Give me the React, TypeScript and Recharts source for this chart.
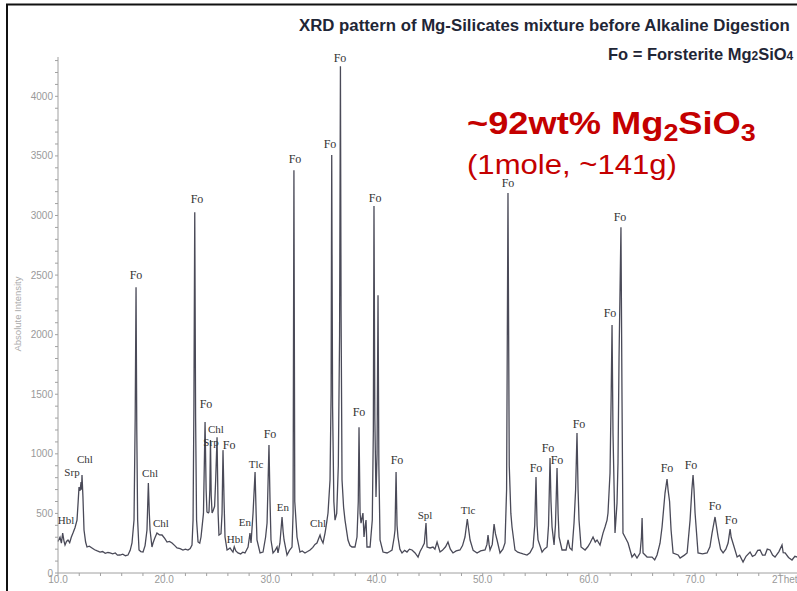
import { ComposedChart, Line, Scatter, XAxis, YAxis } from "recharts";

// 2theta (deg) and counts
const twoTheta = [
  10.0, 10.19, 10.32, 10.44, 10.56, 10.66, 10.8, 10.94, 11.1, 11.25, 11.41, 11.6, 11.79, 11.9, 11.98, 12.08, 12.17, 12.22, 12.26, 12.35,
  12.45, 12.6, 12.73, 12.95, 13.2, 13.45, 13.7, 13.96, 14.2, 14.45, 14.7, 14.9, 15.15, 15.4, 15.6, 15.84, 16.1, 16.35, 16.59, 16.8,
  16.97, 17.16, 17.27, 17.35, 17.42, 17.5, 17.63, 17.8, 18.01, 18.2, 18.38, 18.51, 18.6, 18.67, 18.85, 18.95, 19.1, 19.32, 19.55, 19.8,
  20.05, 20.27, 20.5, 20.74, 21.0, 21.21, 21.5, 21.77, 22.0, 22.24, 22.45, 22.62, 22.72, 22.8, 22.88, 22.96, 23.05, 23.19, 23.35, 23.47,
  23.7, 23.85, 23.95, 24.03, 24.15, 24.22, 24.3, 24.36, 24.43, 24.51, 24.6, 24.75, 24.85, 24.98, 25.08, 25.16, 25.35, 25.45, 25.54, 25.64,
  25.73, 25.92, 26.05, 26.2, 26.35, 26.48, 26.6, 26.75, 26.95, 27.2, 27.4, 27.61, 27.9, 28.08, 28.18, 28.37, 28.56, 28.66, 28.74, 29.03,
  29.31, 29.55, 29.69, 29.87, 29.97, 30.06, 30.25, 30.45, 30.63, 30.72, 30.9, 31.1, 31.2, 31.29, 31.57, 31.8, 32.04, 32.14, 32.22, 32.3,
  32.51, 32.79, 33.0, 33.26, 33.5, 33.74, 34.0, 34.2, 34.39, 34.55, 34.68, 34.8, 34.96, 35.15, 35.3, 35.43, 35.62, 35.72, 35.78, 35.86,
  35.98, 36.09, 36.25, 36.4, 36.52, 36.6, 36.66, 36.75, 36.9, 37.03, 37.31, 37.5, 37.69, 37.97, 38.16, 38.28, 38.35, 38.45, 38.54, 38.63,
  38.72, 38.82, 38.92, 39.01, 39.1, 39.39, 39.6, 39.7, 39.76, 39.84, 39.95, 40.05, 40.14, 40.22, 40.33, 40.61, 40.99, 41.25, 41.46, 41.66,
  41.74, 41.84, 41.93, 42.02, 42.2, 42.4, 42.65, 42.87, 43.1, 43.34, 43.63, 43.91, 44.1, 44.28, 44.5, 44.66, 44.76, 45.04, 45.32, 45.5,
  45.7, 45.98, 46.2, 46.5, 46.73, 46.95, 47.2, 47.5, 47.86, 48.1, 48.33, 48.55, 48.7, 48.81, 49.1, 49.47, 49.8, 50.22, 50.4, 50.5,
  50.6, 50.69, 50.9, 51.07, 51.2, 51.35, 51.63, 51.9, 52.1, 52.25, 52.38, 52.5, 52.65, 52.76, 53.04, 53.3, 53.51, 53.8, 54.17, 54.45,
  54.74, 54.9, 55.02, 55.12, 55.21, 55.59, 55.8, 56.06, 56.2, 56.34, 56.43, 56.53, 56.72, 56.85, 57.0, 57.1, 57.19, 57.47, 57.85, 58.04,
  58.2, 58.41, 58.6, 58.75, 58.88, 58.98, 59.07, 59.26, 59.64, 59.9, 60.11, 60.39, 60.6, 60.77, 61.05, 61.33, 61.52, 61.71, 61.8, 61.99,
  62.1, 62.18, 62.27, 62.46, 62.65, 62.74, 62.84, 63.02, 63.12, 63.21, 63.4, 63.69, 64.06, 64.3, 64.53, 64.82, 64.95, 65.01, 65.1, 65.48,
  65.95, 66.2, 66.42, 66.7, 66.89, 67.17, 67.36, 67.46, 67.6, 67.74, 67.93, 68.4, 68.59, 69.0, 69.25, 69.53, 69.7, 69.81, 69.9, 70.0,
  70.28, 70.7, 71.13, 71.4, 71.6, 71.88, 72.0, 72.17, 72.4, 72.64, 72.9, 73.11, 73.3, 73.4, 73.48, 73.96, 74.2, 74.52, 74.8, 75.18,
  75.4, 75.65, 75.9, 76.12, 76.35, 76.59, 76.8, 77.06, 77.3, 77.53, 77.9, 78.19, 78.3, 78.48, 78.8, 79.13, 79.4, 79.6,
];

const intensity = [
  265, 300, 250, 335, 270, 235, 265, 277, 255, 300, 335, 380, 444, 600, 721, 690, 763, 700, 822, 637,
  361, 260, 218, 225, 210, 195, 185, 176, 180, 165, 172, 168, 160, 168, 150, 151, 158, 145, 151, 190,
  252, 444, 1300, 2398, 1200, 444, 193, 180, 176, 230, 361, 755, 500, 361, 218, 252, 290, 335, 320, 319,
  290, 260, 265, 252, 230, 210, 205, 193, 200, 193, 205, 235, 444, 1400, 3027, 1300, 444, 260, 250, 302,
  500, 1266, 700, 512, 505, 512, 700, 1115, 650, 503, 520, 560, 780, 1140, 500, 319, 330, 500, 1031, 600,
  302, 193, 200, 210, 190, 176, 220, 185, 168, 160, 175, 168, 218, 335, 252, 503, 847, 500, 277, 168,
  176, 300, 419, 1073, 600, 277, 168, 190, 218, 168, 250, 470, 350, 277, 151, 190, 218, 500, 3380, 600,
  302, 176, 185, 168, 180, 193, 215, 240, 252, 290, 319, 280, 252, 335, 420, 503, 780, 1500, 3507, 1400,
  600, 444, 500, 900, 2000, 4253, 2200, 780, 550, 444, 277, 230, 218, 218, 302, 600, 1224, 500, 419, 460,
  503, 302, 390, 444, 218, 218, 444, 1200, 3079, 1300, 637, 1000, 2331, 900, 277, 176, 168, 180, 193, 300,
  361, 847, 400, 302, 200, 168, 190, 176, 200, 193, 168, 134, 180, 210, 250, 419, 218, 210, 218, 200,
  260, 176, 190, 220, 260, 200, 168, 185, 193, 230, 302, 453, 350, 277, 190, 168, 185, 193, 240, 319,
  240, 193, 240, 411, 330, 277, 168, 200, 252, 700, 3188, 900, 500, 386, 193, 175, 168, 160, 151, 170,
  218, 400, 805, 400, 277, 176, 200, 218, 400, 964, 600, 386, 235, 400, 881, 500, 302, 193, 193, 277,
  210, 193, 419, 700, 1174, 700, 444, 218, 193, 220, 252, 302, 260, 277, 235, 335, 386, 444, 503, 839,
  1500, 2080, 1174, 335, 587, 922, 1811, 2902, 1451, 335, 302, 252, 134, 160, 126, 168, 300, 461, 168, 134,
  134, 110, 151, 250, 386, 671, 789, 696, 600, 361, 168, 151, 126, 150, 168, 444, 700, 822, 700, 503,
  168, 160, 168, 220, 335, 470, 400, 302, 200, 168, 200, 252, 369, 300, 277, 134, 150, 92, 140, 176,
  140, 151, 190, 193, 150, 151, 200, 193, 150, 134, 180, 235, 170, 168, 130, 109, 140, 134,
];

// phase labels: name, 2theta, height where the label sits
const peakNames = [
  "Hbl", "Srp", "Chl", "Fo", "Chl", "Chl", "Fo", "Fo", "Chl", "Srp", "Fo", "Hbl", "En", "Tlc", "Fo", "En", "Fo", "Chl",
  "Fo", "Fo", "Fo", "Fo", "Fo", "Spl", "Tlc", "Fo", "Fo", "Fo", "Fo", "Fo", "Fo", "Fo", "Fo", "Fo", "Fo", "Fo",
];
const peakTheta = [
  10.75, 11.32, 12.54, 17.35, 18.67, 19.7, 23.09, 23.94, 24.88, 24.41, 26.11, 26.67, 27.61, 28.65, 29.97, 31.19, 32.32, 34.49,
  35.62, 36.56, 38.35, 39.86, 41.93, 44.57, 48.62, 52.38, 55.02, 56.15, 57.0, 59.07, 61.99, 62.93, 67.36, 69.62, 71.88, 73.39,
];
const peakLabelY = [
  411, 813, 922, 2465, 805, 386, 3103, 1384, 1174, 1065, 1040, 252, 394, 880, 1132, 520, 3438, 386,
  3564, 4285, 1317, 3111, 914, 453, 495, 3237, 847, 1015, 914, 1216, 2147, 2952, 847, 872, 528, 411,
];

const xTicks = [10, 12, 14, 16, 18, 20, 22, 24, 26, 28, 30, 32, 34, 36, 38, 40, 42, 44, 46, 48, 50, 52, 54, 56, 58, 60, 62, 64, 66, 68, 70, 72, 74, 76, 78];
const yTicks = Array.from({ length: 44 }, (_, i) => i * 100);

const pattern = twoTheta.map((x, i) => ({ x, y: intensity[i] }));
const peaks = peakNames.map((name, i) => ({ x: peakTheta[i], y: peakLabelY[i], name }));

const axisGray = "#a0a0a0";
const sans = "'Liberation Sans', Arial, sans-serif";

const PeakLabel = (props: any) => {
  const { cx, cy, payload } = props;
  return (
    <text
      x={cx}
      y={cy}
      textAnchor="middle"
      fontFamily="'Liberation Serif', 'Times New Roman', serif"
      fontSize={payload.name === "Fo" ? 12 : 11}
      fill="#333"
    >
      {payload.name}
    </text>
  );
};

export default function App() {
  return (
    <div style={{ position: "absolute", left: 0, top: 0, width: 797, height: 591, background: "#fff", overflow: "hidden" }}>
      <ComposedChart width={797} height={591} margin={{ top: 57, right: 0, bottom: 0, left: 0 }}>
        <XAxis
          type="number"
          dataKey="x"
          domain={[10, 79.6]}
          ticks={xTicks}
          interval={0}
          height={18}
          tickSize={3}
          tickMargin={0}
          tickFormatter={(v: number) => (v % 10 === 0 ? v.toFixed(1) : "")}
          tick={{ fill: "#999", fontSize: 10, fontFamily: sans }}
          stroke={axisGray}
        />
        <YAxis
          type="number"
          dataKey="y"
          domain={[0, 4330]}
          ticks={yTicks}
          interval={0}
          width={58}
          tickSize={3}
          tickMargin={2}
          tickFormatter={(v: number) => (v % 500 === 0 ? String(v) : "")}
          tick={{ fill: "#999", fontSize: 10, fontFamily: sans }}
          stroke={axisGray}
        />
        <Line
          data={pattern}
          dataKey="y"
          type="linear"
          stroke="#4a4a58"
          strokeWidth={1.3}
          dot={false}
          isAnimationActive={false}
        />
        <Scatter data={peaks} dataKey="y" shape={PeakLabel} isAnimationActive={false} />
      </ComposedChart>

      <svg width={797} height={591} style={{ position: "absolute", left: 0, top: 0, pointerEvents: "none" }}>
        <path d="M 7 600 L 7 4.5 L 800 4.5" fill="none" stroke="#111" strokeWidth={2} />
        <text x={299} y={31} fontFamily={sans} fontWeight="bold" fontSize={16.8} fill="#1f2636">
          XRD pattern of Mg-Silicates mixture before Alkaline Digestion
        </text>
        <text x={608} y={60} fontFamily={sans} fontWeight="bold" fontSize={16.5} fill="#1f2636">
          Fo = Forsterite Mg<tspan fontSize={12}>2</tspan>SiO<tspan fontSize={12}>4</tspan>
        </text>
        <g transform="translate(467,134) scale(1.17,1)">
          <text x={0} y={0} fontFamily={sans} fontWeight="bold" fontSize={31} fill="#c40000">
            ~92wt% Mg<tspan fontSize={23} dy={7}>2</tspan>
            <tspan dy={-7}>SiO</tspan>
            <tspan fontSize={23} dy={7}>3</tspan>
          </text>
        </g>
        <g transform="translate(467,174) scale(1.11,1)">
          <text x={0} y={0} fontFamily={sans} fontSize={28} fill="#c40000">
            (1mole, ~141g)
          </text>
        </g>
        <text x={772} y={583} fontFamily={sans} fontSize={10} fill="#999">
          2Theta
        </text>
        <text
          x={0}
          y={0}
          transform="translate(21,314) rotate(-90)"
          textAnchor="middle"
          fontFamily={sans}
          fontSize={9.5}
          fill="#aaa"
        >
          Absolute Intensity
        </text>
      </svg>
    </div>
  );
}
